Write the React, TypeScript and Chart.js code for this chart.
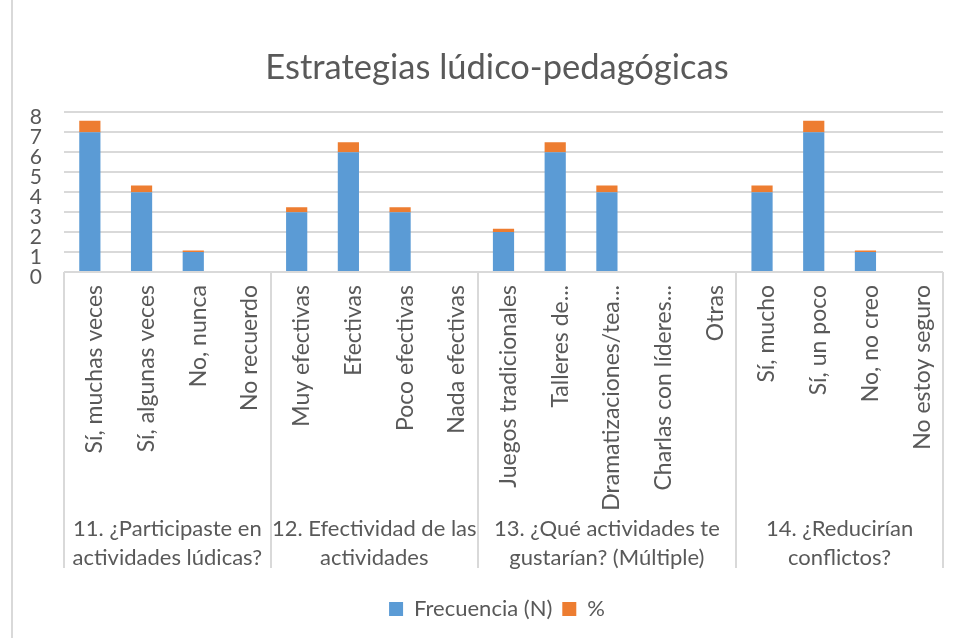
import React, { useEffect, useRef } from "react";
import { Chart, registerables } from "chart.js";

Chart.register(...registerables);

const categories = [
  "Sí, muchas veces",
  "Sí, algunas veces",
  "No, nunca",
  "No recuerdo",
  "Muy efectivas",
  "Efectivas",
  "Poco efectivas",
  "Nada efectivas",
  "Juegos tradicionales",
  "Talleres de...",
  "Dramatizaciones/tea...",
  "Charlas con líderes...",
  "Otras",
  "Sí, mucho",
  "Sí, un poco",
  "No, no creo",
  "No estoy seguro",
];

const groupLabels = [
  ["11. ¿Participaste en", "actividades lúdicas?"],
  ["12. Efectividad de las", "actividades"],
  ["13. ¿Qué actividades te", "gustarían? (Múltiple)"],
  ["14. ¿Reducirían", "conflictos?"],
];
const groupSizes = [4, 4, 5, 4];

const frecuencia = [7, 4, 1, 0, 3, 6, 3, 0, 2, 6, 4, 0, 0, 4, 7, 1, 0];
const porcentaje = [0.58, 0.33, 0.08, 0, 0.25, 0.5, 0.25, 0, 0.17, 0.5, 0.33, 0, 0, 0.33, 0.58, 0.08, 0];

const yMin = 0;
const yMax = 8;
const yStep = 1;

const FONT = "Lato";
const TEXT = "#595959";
const GRID = "#d9d9d9";

const groupPlugin = {
  id: "groupPlugin",
  beforeDraw(chart: any) {
    const ctx = chart.ctx;
    ctx.save();
    ctx.strokeStyle = GRID;
    ctx.lineWidth = 2;
    ctx.beginPath();
    ctx.moveTo(12, 0);
    ctx.lineTo(12, chart.height);
    ctx.stroke();
    ctx.restore();
  },
  afterDraw(chart: any) {
    const ctx = chart.ctx;
    const x = chart.scales.x;
    const y = chart.scales.y;
    const n = categories.length;
    const step = (x.right - x.left) / n;
    const top = chart.chartArea.bottom;
    const lineBottom = top + 296;
    ctx.save();
    // y-axis tick labels (placed left of the axis box, Excel style)
    ctx.fillStyle = TEXT;
    ctx.font = `21px ${FONT}`;
    ctx.textAlign = "right";
    ctx.textBaseline = "middle";
    y.ticks.forEach((t: any) => {
      ctx.fillText(String(t.value), chart.chartArea.left - 22, y.getPixelForValue(t.value) + 5);
    });
    // group separators
    ctx.strokeStyle = GRID;
    ctx.lineWidth = 2;
    let idx = 0;
    const bounds = [0];
    groupSizes.forEach((s) => {
      idx += s;
      bounds.push(idx);
    });
    bounds.forEach((b) => {
      const px = Math.round(x.left + b * step);
      ctx.beginPath();
      ctx.moveTo(px, top);
      ctx.lineTo(px, lineBottom);
      ctx.stroke();
    });
    // group labels
    ctx.font = `22px ${FONT}`;
    ctx.textAlign = "center";
    groupLabels.forEach((lines, g) => {
      const cx = x.left + ((bounds[g] + bounds[g + 1]) / 2) * step;
      lines.forEach((line, li) => {
        ctx.fillText(line, cx, top + 257 + li * 29);
      });
    });
    ctx.restore();
  },
};

export default function App() {
  const ref = useRef<HTMLCanvasElement | null>(null);
  useEffect(() => {
    if (!ref.current) return;
    const chart = new Chart(ref.current, {
      type: "bar",
      data: {
        labels: categories,
        datasets: [
          {
            label: "Frecuencia (N)",
            data: frecuencia,
            backgroundColor: "#5B9BD5",
            barPercentage: 0.41,
            categoryPercentage: 1,
          },
          {
            label: "%",
            data: porcentaje,
            backgroundColor: "#ED7D31",
            barPercentage: 0.41,
            categoryPercentage: 1,
          },
        ],
      },
      options: {
        animation: false,
        responsive: false,
        maintainAspectRatio: false,
        layout: { padding: { left: 51, right: 16, top: 0, bottom: 8 } },
        plugins: {
          title: {
            display: true,
            text: "Estrategias lúdico-pedagógicas",
            color: TEXT,
            font: { family: FONT, size: 34.5, weight: "normal", lineHeight: 1.2 },
            padding: { top: 47, bottom: 24 },
          },
          legend: {
            position: "bottom",
            labels: {
              color: TEXT,
              font: { family: FONT, size: 22 },
              boxWidth: 14,
              boxHeight: 14,
              padding: 10,
            },
          },
          tooltip: { enabled: false },
        },
        scales: {
          x: {
            stacked: true,
            grid: { display: false, drawTicks: false },
            border: { display: false },
            ticks: {
              color: TEXT,
              font: { family: FONT, size: 23 },
              minRotation: 90,
              maxRotation: 90,
              autoSkip: false,
              padding: 13,
              labelOffset: 5,
            },
            afterFit: (s: any) => {
              s.height = 316;
            },
          },
          y: {
            stacked: true,
            min: yMin,
            max: yMax,
            ticks: {
              stepSize: yStep,
              autoSkip: false,
              display: false,
            },
            grid: { color: GRID, lineWidth: 2, drawTicks: false },
            border: { display: false },
            afterFit: (s: any) => {
              s.width = 13;
            },
          },
        },
      },
      plugins: [groupPlugin],
    });
    return () => chart.destroy();
  }, []);
  return (
    <div style={{ position: "fixed", left: 0, top: 0, width: 959, height: 638, background: "#fff" }}>
      <canvas ref={ref} width={959} height={638} style={{ width: 959, height: 638 }} />
    </div>
  );
}
